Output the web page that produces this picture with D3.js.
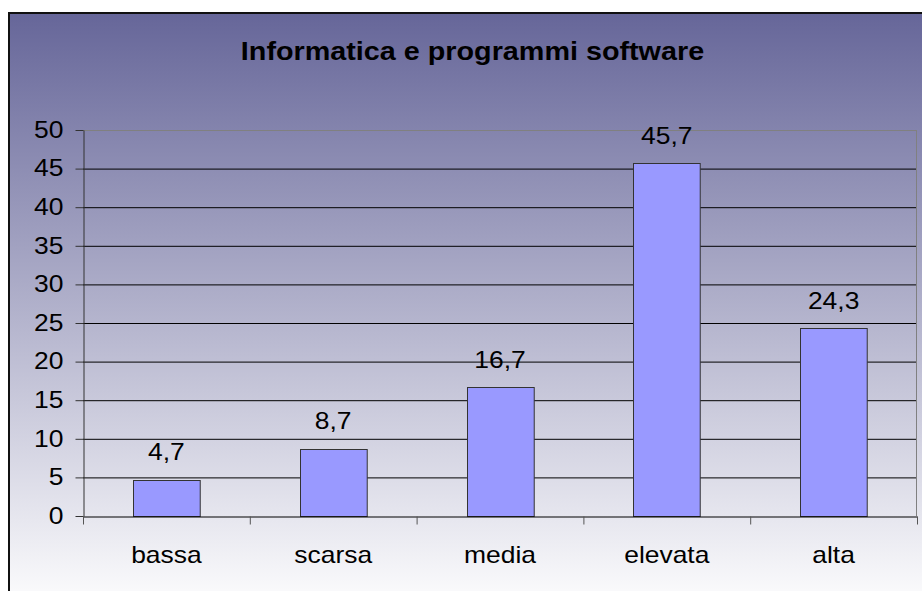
<!DOCTYPE html>
<html>
<head>
<meta charset="utf-8">
<script src="https://d3js.org/d3.v7.min.js"></script>
<style>
  body { margin: 0; background: #fff; }
  svg { display: block; font-family: "Liberation Sans", Arial, sans-serif; }
</style>
</head>
<body>
<svg id="chart" width="922" height="591"></svg>
<script>
// data
const title = "Informatica e programmi software";
const categories = ["bassa", "scarsa", "media", "elevata", "alta"];
const values = [4.7, 8.7, 16.7, 45.7, 24.3];
const valueLabels = ["4,7", "8,7", "16,7", "45,7", "24,3"];
const yTicks = [0, 5, 10, 15, 20, 25, 30, 35, 40, 45, 50];

// layout
const W = 922, H = 591;
const plot = { left: 83, right: 917, top: 130, bottom: 516 };
const sx = 1.15; // text in the picture is stretched horizontally

const svg = d3.select("#chart");

// background gradient
const defs = svg.append("defs");
const grad = defs.append("linearGradient")
  .attr("id", "bg")
  .attr("x1", 0).attr("y1", 0).attr("x2", 0).attr("y2", 1);
grad.append("stop").attr("offset", "0%").attr("stop-color", "#666699");
grad.append("stop").attr("offset", "100%").attr("stop-color", "#ffffff");

svg.append("rect")
  .attr("x", 9).attr("y", 13)
  .attr("width", W + 10).attr("height", H + 10)
  .attr("fill", "url(#bg)")
  .attr("stroke", "#111")
  .attr("stroke-width", 2);

// scales
const x = d3.scaleBand()
  .domain(categories)
  .range([plot.left, plot.right])
  .paddingInner(0.6)
  .paddingOuter(0.3);

const xEdges = d3.scaleLinear()
  .domain([0, categories.length])
  .range([plot.left, plot.right]);

const y = d3.scaleLinear()
  .domain([0, 50])
  .range([plot.bottom, plot.top]);

// title
svg.append("text")
  .attr("transform", "translate(472.5,59.5) scale(" + sx + ",1)")
  .attr("text-anchor", "middle")
  .style("font-size", "25px")
  .style("font-weight", "bold")
  .attr("fill", "#000")
  .text(title);

// gridlines
svg.append("g")
  .selectAll("line")
  .data(yTicks.filter(d => d > 0))
  .join("line")
  .attr("x1", plot.left).attr("x2", plot.right)
  .attr("y1", d => y(d) + 0.5).attr("y2", d => y(d) + 0.5)
  .attr("stroke", d => d === 50 ? "#808080" : "#000")
  .attr("stroke-width", 1);

// plot area right border
svg.append("line")
  .attr("x1", plot.right - 0.5).attr("x2", plot.right - 0.5)
  .attr("y1", plot.top).attr("y2", plot.bottom)
  .attr("stroke", "#808080");

// bars
svg.append("g")
  .selectAll("rect")
  .data(values)
  .join("rect")
  .attr("x", (d, i) => Math.round(x(categories[i])) + 0.5)
  .attr("y", d => Math.round(y(d)) + 0.5)
  .attr("width", x.bandwidth())
  .attr("height", d => Math.round(y(0)) - Math.round(y(d)))
  .attr("fill", "#9999ff")
  .attr("stroke", "#333")
  .attr("stroke-width", 1);

// value labels
svg.append("g")
  .selectAll("text")
  .data(values)
  .join("text")
  .attr("transform", (d, i) =>
    "translate(" + (x(categories[i]) + x.bandwidth() / 2) + "," + (y(d) - 19.5) + ") scale(" + sx + ",1)")
  .attr("text-anchor", "middle")
  .style("font-size", "23px")
  .attr("fill", "#000")
  .text((d, i) => valueLabels[i]);

// y axis
const yAxis = svg.append("g")
  .attr("transform", "translate(" + (plot.left + 0.5) + ",0)")
  .call(d3.axisLeft(y).tickValues(yTicks).tickSize(8).tickSizeOuter(0));
yAxis.select(".domain").attr("stroke", "#333");
yAxis.selectAll(".tick line").attr("stroke", "#333");
yAxis.selectAll(".tick text")
  .attr("x", -20 / sx)
  .attr("transform", "scale(" + sx + ",1)")
  .style("font-size", "23px")
  .style("font-family", "Liberation Sans, Arial, sans-serif")
  .attr("fill", "#000");

// x axis with ticks between categories
const xAxis = svg.append("g")
  .attr("transform", "translate(0," + (plot.bottom + 0.5) + ")")
  .call(d3.axisBottom(xEdges).ticks(categories.length).tickSize(8).tickSizeOuter(0).tickFormat(""));
xAxis.select(".domain").attr("stroke", "#000");
xAxis.selectAll(".tick line").attr("stroke", "#555");

// category labels
svg.append("g")
  .selectAll("text")
  .data(categories)
  .join("text")
  .attr("transform", d =>
    "translate(" + (x(d) + x.bandwidth() / 2) + "," + 563 + ") scale(" + sx + ",1)")
  .attr("text-anchor", "middle")
  .style("font-size", "23px")
  .attr("fill", "#000")
  .text(d => d);
</script>
</body>
</html>
